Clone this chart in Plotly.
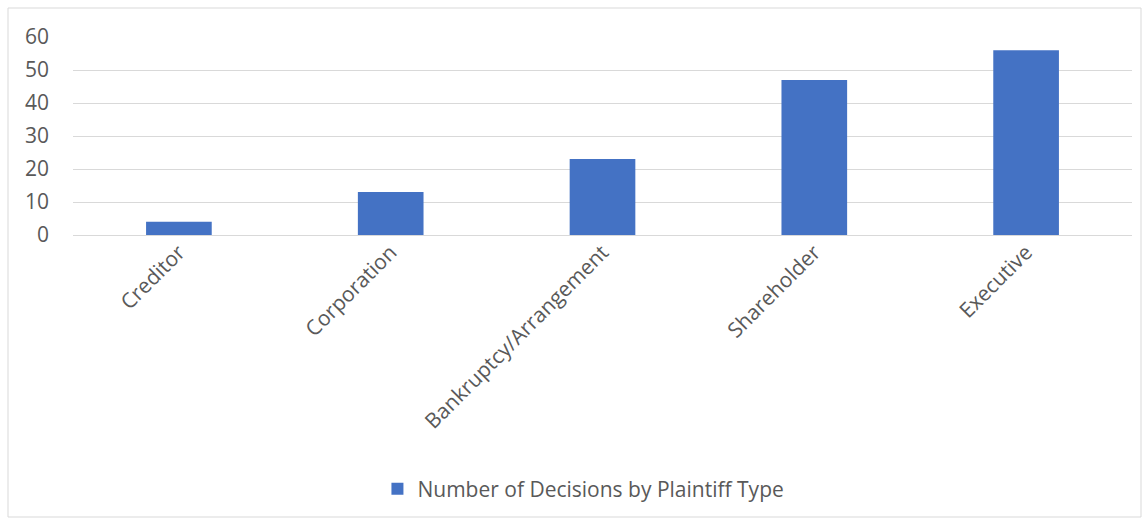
import plotly.graph_objects as go

categories = ["Creditor", "Corporation", "Bankruptcy/Arrangement", "Shareholder", "Executive"]
decisions = [4, 13, 23, 47, 56]
series_name = "Number of Decisions by Plaintiff Type"

W, H = 1145, 520
L, R, T, B = 73, 13, 37, 285
pw, ph = W - L - R, H - T - B

font_family = "'Open Sans', 'Noto Sans', 'Liberation Sans', sans-serif"
text_color = "#595959"
fs = 21

fig = go.Figure(
    go.Bar(
        x=categories,
        y=decisions,
        name=series_name,
        marker=dict(color="#4472C4", line=dict(width=0)),
        width=0.31,
        showlegend=True,
    )
)

# outer chart frame, expressed in paper coordinates
fx0, fx1 = (8 - L) / pw, (1141 - L) / pw
fy0, fy1 = (H - B - 517) / ph, (H - B - 8) / ph

fig.update_layout(
    width=W,
    height=H,
    margin=dict(l=L, r=R, t=T, b=B, autoexpand=False),
    paper_bgcolor="white",
    plot_bgcolor="white",
    font=dict(family=font_family, color=text_color, size=fs),
    xaxis=dict(
        tickangle=-45,
        showgrid=False,
        showline=False,
        ticks="",
        tickfont=dict(size=fs, color=text_color),
    ),
    yaxis=dict(
        range=[0, 60],
        dtick=10,
        showgrid=True,
        gridcolor="#D9D9D9",
        gridwidth=1,
        zeroline=True,
        zerolinecolor="#D9D9D9",
        zerolinewidth=1,
        showline=False,
        ticks="",
        ticklabelstandoff=23,
        tickfont=dict(size=fs, color=text_color),
    ),
    legend=dict(
        orientation="h",
        x=0.482,
        xanchor="center",
        y=(H - B - 489) / ph,
        yanchor="middle",
        font=dict(size=fs, color=text_color),
        itemwidth=30,
    ),
    shapes=[
        dict(
            type="rect",
            xref="paper",
            yref="paper",
            x0=fx0,
            x1=fx1,
            y0=fy0,
            y1=fy1,
            line=dict(color="#D9D9D9", width=1),
            fillcolor="rgba(0,0,0,0)",
            layer="below",
        )
    ],
)

fig.write_html("out.html")
